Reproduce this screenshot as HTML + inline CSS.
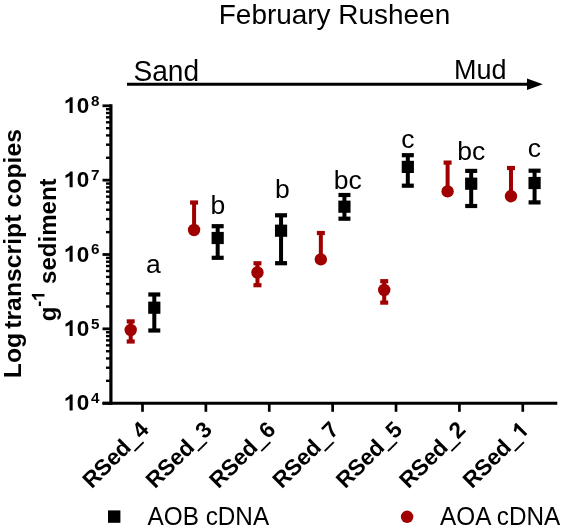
<!DOCTYPE html>
<html><head><meta charset="utf-8"><style>
html,body{margin:0;padding:0;background:#fff;overflow:hidden}
svg{display:block;will-change:transform}
text{font-family:"Liberation Sans",sans-serif;fill:#000}
</style></head><body>
<svg width="566" height="529" viewBox="0 0 566 529">
<line x1="110.9" y1="104.3" x2="110.9" y2="404.8" stroke="#000" stroke-width="3.2"/>
<line x1="102.5" y1="403.3" x2="557.3" y2="403.3" stroke="#000" stroke-width="3"/>
<line x1="102.5" y1="105.80" x2="110.9" y2="105.80" stroke="#000" stroke-width="2.8"/>
<line x1="106" y1="157.77" x2="110.9" y2="157.77" stroke="#000" stroke-width="2.4"/>
<line x1="106" y1="144.68" x2="110.9" y2="144.68" stroke="#000" stroke-width="2.4"/>
<line x1="106" y1="135.39" x2="110.9" y2="135.39" stroke="#000" stroke-width="2.4"/>
<line x1="106" y1="128.18" x2="110.9" y2="128.18" stroke="#000" stroke-width="2.4"/>
<line x1="106" y1="122.29" x2="110.9" y2="122.29" stroke="#000" stroke-width="2.4"/>
<line x1="106" y1="117.32" x2="110.9" y2="117.32" stroke="#000" stroke-width="2.4"/>
<line x1="106" y1="113.01" x2="110.9" y2="113.01" stroke="#000" stroke-width="2.4"/>
<line x1="106" y1="109.20" x2="110.9" y2="109.20" stroke="#000" stroke-width="2.4"/>
<line x1="102.5" y1="180.15" x2="110.9" y2="180.15" stroke="#000" stroke-width="2.8"/>
<line x1="106" y1="232.12" x2="110.9" y2="232.12" stroke="#000" stroke-width="2.4"/>
<line x1="106" y1="219.03" x2="110.9" y2="219.03" stroke="#000" stroke-width="2.4"/>
<line x1="106" y1="209.74" x2="110.9" y2="209.74" stroke="#000" stroke-width="2.4"/>
<line x1="106" y1="202.53" x2="110.9" y2="202.53" stroke="#000" stroke-width="2.4"/>
<line x1="106" y1="196.64" x2="110.9" y2="196.64" stroke="#000" stroke-width="2.4"/>
<line x1="106" y1="191.67" x2="110.9" y2="191.67" stroke="#000" stroke-width="2.4"/>
<line x1="106" y1="187.36" x2="110.9" y2="187.36" stroke="#000" stroke-width="2.4"/>
<line x1="106" y1="183.55" x2="110.9" y2="183.55" stroke="#000" stroke-width="2.4"/>
<line x1="102.5" y1="254.50" x2="110.9" y2="254.50" stroke="#000" stroke-width="2.8"/>
<line x1="106" y1="306.47" x2="110.9" y2="306.47" stroke="#000" stroke-width="2.4"/>
<line x1="106" y1="293.38" x2="110.9" y2="293.38" stroke="#000" stroke-width="2.4"/>
<line x1="106" y1="284.09" x2="110.9" y2="284.09" stroke="#000" stroke-width="2.4"/>
<line x1="106" y1="276.88" x2="110.9" y2="276.88" stroke="#000" stroke-width="2.4"/>
<line x1="106" y1="270.99" x2="110.9" y2="270.99" stroke="#000" stroke-width="2.4"/>
<line x1="106" y1="266.02" x2="110.9" y2="266.02" stroke="#000" stroke-width="2.4"/>
<line x1="106" y1="261.71" x2="110.9" y2="261.71" stroke="#000" stroke-width="2.4"/>
<line x1="106" y1="257.90" x2="110.9" y2="257.90" stroke="#000" stroke-width="2.4"/>
<line x1="102.5" y1="328.85" x2="110.9" y2="328.85" stroke="#000" stroke-width="2.8"/>
<line x1="106" y1="380.82" x2="110.9" y2="380.82" stroke="#000" stroke-width="2.4"/>
<line x1="106" y1="367.73" x2="110.9" y2="367.73" stroke="#000" stroke-width="2.4"/>
<line x1="106" y1="358.44" x2="110.9" y2="358.44" stroke="#000" stroke-width="2.4"/>
<line x1="106" y1="351.23" x2="110.9" y2="351.23" stroke="#000" stroke-width="2.4"/>
<line x1="106" y1="345.34" x2="110.9" y2="345.34" stroke="#000" stroke-width="2.4"/>
<line x1="106" y1="340.37" x2="110.9" y2="340.37" stroke="#000" stroke-width="2.4"/>
<line x1="106" y1="336.06" x2="110.9" y2="336.06" stroke="#000" stroke-width="2.4"/>
<line x1="106" y1="332.25" x2="110.9" y2="332.25" stroke="#000" stroke-width="2.4"/>
<line x1="102.5" y1="403.20" x2="110.9" y2="403.20" stroke="#000" stroke-width="2.8"/>
<line x1="142.50" y1="403.3" x2="142.50" y2="411.8" stroke="#000" stroke-width="2.7"/>
<line x1="205.88" y1="403.3" x2="205.88" y2="411.8" stroke="#000" stroke-width="2.7"/>
<line x1="269.26" y1="403.3" x2="269.26" y2="411.8" stroke="#000" stroke-width="2.7"/>
<line x1="332.64" y1="403.3" x2="332.64" y2="411.8" stroke="#000" stroke-width="2.7"/>
<line x1="396.02" y1="403.3" x2="396.02" y2="411.8" stroke="#000" stroke-width="2.7"/>
<line x1="459.40" y1="403.3" x2="459.40" y2="411.8" stroke="#000" stroke-width="2.7"/>
<line x1="522.78" y1="403.3" x2="522.78" y2="411.8" stroke="#000" stroke-width="2.7"/>
<rect x="128.70" y="321.40" width="4.0" height="20.10" fill="#A00000"/>
<rect x="126.70" y="319.30" width="8" height="4.2" fill="#A00000"/>
<rect x="126.70" y="339.40" width="8" height="4.2" fill="#A00000"/>
<circle cx="130.70" cy="330.00" r="6.2" fill="#A00000"/>
<rect x="152.30" y="294.50" width="4.0" height="36.00" fill="#000"/>
<rect x="148.30" y="292.40" width="12" height="4.2" fill="#000"/>
<rect x="148.30" y="328.40" width="12" height="4.2" fill="#000"/>
<rect x="148.20" y="301.60" width="12.2" height="12.2" fill="#000"/>
<rect x="192.08" y="202.50" width="4.0" height="27.50" fill="#A00000"/>
<rect x="190.08" y="200.40" width="8" height="4.2" fill="#A00000"/>
<circle cx="194.08" cy="230.00" r="6.2" fill="#A00000"/>
<rect x="215.68" y="226.20" width="4.0" height="31.60" fill="#000"/>
<rect x="211.68" y="224.10" width="12" height="4.2" fill="#000"/>
<rect x="211.68" y="255.70" width="12" height="4.2" fill="#000"/>
<rect x="211.58" y="231.90" width="12.2" height="12.2" fill="#000"/>
<rect x="255.46" y="263.30" width="4.0" height="21.90" fill="#A00000"/>
<rect x="253.46" y="261.20" width="8" height="4.2" fill="#A00000"/>
<rect x="253.46" y="283.10" width="8" height="4.2" fill="#A00000"/>
<circle cx="257.46" cy="272.50" r="6.2" fill="#A00000"/>
<rect x="279.06" y="215.30" width="4.0" height="47.90" fill="#000"/>
<rect x="275.06" y="213.20" width="12" height="4.2" fill="#000"/>
<rect x="275.06" y="261.10" width="12" height="4.2" fill="#000"/>
<rect x="274.96" y="224.60" width="12.2" height="12.2" fill="#000"/>
<rect x="318.84" y="233.00" width="4.0" height="26.40" fill="#A00000"/>
<rect x="316.84" y="230.90" width="8" height="4.2" fill="#A00000"/>
<circle cx="320.84" cy="259.40" r="6.2" fill="#A00000"/>
<rect x="342.44" y="195.00" width="4.0" height="23.70" fill="#000"/>
<rect x="338.44" y="192.90" width="12" height="4.2" fill="#000"/>
<rect x="338.44" y="216.60" width="12" height="4.2" fill="#000"/>
<rect x="338.34" y="200.60" width="12.2" height="12.2" fill="#000"/>
<rect x="382.22" y="281.20" width="4.0" height="21.40" fill="#A00000"/>
<rect x="380.22" y="279.10" width="8" height="4.2" fill="#A00000"/>
<rect x="380.22" y="300.50" width="8" height="4.2" fill="#A00000"/>
<circle cx="384.22" cy="290.00" r="6.2" fill="#A00000"/>
<rect x="405.82" y="155.20" width="4.0" height="30.50" fill="#000"/>
<rect x="401.82" y="153.10" width="12" height="4.2" fill="#000"/>
<rect x="401.82" y="183.60" width="12" height="4.2" fill="#000"/>
<rect x="401.72" y="160.80" width="12.2" height="12.2" fill="#000"/>
<rect x="445.60" y="162.60" width="4.0" height="28.80" fill="#A00000"/>
<rect x="443.60" y="160.50" width="8" height="4.2" fill="#A00000"/>
<circle cx="447.60" cy="191.40" r="6.2" fill="#A00000"/>
<rect x="469.20" y="170.90" width="4.0" height="35.10" fill="#000"/>
<rect x="465.20" y="168.80" width="12" height="4.2" fill="#000"/>
<rect x="465.20" y="203.90" width="12" height="4.2" fill="#000"/>
<rect x="465.10" y="177.60" width="12.2" height="12.2" fill="#000"/>
<rect x="508.98" y="168.00" width="4.0" height="28.20" fill="#A00000"/>
<rect x="506.98" y="165.90" width="8" height="4.2" fill="#A00000"/>
<circle cx="510.98" cy="196.20" r="6.2" fill="#A00000"/>
<rect x="532.58" y="170.70" width="4.0" height="31.70" fill="#000"/>
<rect x="528.58" y="168.60" width="12" height="4.2" fill="#000"/>
<rect x="528.58" y="200.30" width="12" height="4.2" fill="#000"/>
<rect x="528.48" y="176.90" width="12.2" height="12.2" fill="#000"/>
<text x="153.25" y="272.9" font-size="26.5" text-anchor="middle">a</text>
<text x="217.8" y="214.2" font-size="26.5" text-anchor="middle">b</text>
<text x="282.35" y="198.35" font-size="26.5" text-anchor="middle">b</text>
<text x="347.65" y="188.6" font-size="26.5" text-anchor="middle">bc</text>
<text x="407.9" y="148.15" font-size="26.5" text-anchor="middle">c</text>
<text x="471.2" y="159.5" font-size="26.5" text-anchor="middle">bc</text>
<text x="534.35" y="157.05" font-size="26.5" text-anchor="middle">c</text>
<text transform="translate(218.8,24) scale(1,1.02)" font-size="27.95">February Rusheen</text>
<text transform="translate(133.5,80.5) scale(1,1.04)" font-size="28.1">Sand</text>
<text transform="translate(454,79.4) scale(1,1.04)" font-size="27">Mud</text>
<line x1="127" y1="84.3" x2="530" y2="84.3" stroke="#000" stroke-width="3"/>
<polygon points="527,78.6 542.8,84.35 527,90.1" fill="#000"/>
<g transform="translate(64.3,113.00)"><path d="M760 0L480 0L480 1060C400 985 270 915 110 860L110 1115C200 1145 300 1200 380 1270C450 1330 510 1390 540 1440L760 1440Z" transform="translate(0.000,0.000) scale(0.01099,-0.01099)" fill="#000"/><text x="12.513" y="0" font-size="22.5" font-weight="bold">0</text></g>
<text x="91" y="105.60" font-size="15.2" font-weight="bold">8</text>
<g transform="translate(64.3,187.35)"><path d="M760 0L480 0L480 1060C400 985 270 915 110 860L110 1115C200 1145 300 1200 380 1270C450 1330 510 1390 540 1440L760 1440Z" transform="translate(0.000,0.000) scale(0.01099,-0.01099)" fill="#000"/><text x="12.513" y="0" font-size="22.5" font-weight="bold">0</text></g>
<text x="91" y="179.95" font-size="15.2" font-weight="bold">7</text>
<g transform="translate(64.3,261.70)"><path d="M760 0L480 0L480 1060C400 985 270 915 110 860L110 1115C200 1145 300 1200 380 1270C450 1330 510 1390 540 1440L760 1440Z" transform="translate(0.000,0.000) scale(0.01099,-0.01099)" fill="#000"/><text x="12.513" y="0" font-size="22.5" font-weight="bold">0</text></g>
<text x="91" y="254.30" font-size="15.2" font-weight="bold">6</text>
<g transform="translate(64.3,336.05)"><path d="M760 0L480 0L480 1060C400 985 270 915 110 860L110 1115C200 1145 300 1200 380 1270C450 1330 510 1390 540 1440L760 1440Z" transform="translate(0.000,0.000) scale(0.01099,-0.01099)" fill="#000"/><text x="12.513" y="0" font-size="22.5" font-weight="bold">0</text></g>
<text x="91" y="328.65" font-size="15.2" font-weight="bold">5</text>
<g transform="translate(64.3,410.40)"><path d="M760 0L480 0L480 1060C400 985 270 915 110 860L110 1115C200 1145 300 1200 380 1270C450 1330 510 1390 540 1440L760 1440Z" transform="translate(0.000,0.000) scale(0.01099,-0.01099)" fill="#000"/><text x="12.513" y="0" font-size="22.5" font-weight="bold">0</text></g>
<text x="91" y="403.00" font-size="15.2" font-weight="bold">4</text>
<g transform="translate(21.1,0) rotate(-90)" font-size="24.75" font-weight="bold"><text x="-378.2">Log</text><text x="-328.75">transcript</text><text x="-207.4">copies</text></g>
<g transform="translate(55.5,249.9) rotate(-90)"><text x="-71.480" y="0" font-size="24.05" font-weight="bold">g<tspan font-size="18" dy="-11">-</tspan><tspan font-size="18" fill="transparent">1</tspan><tspan dy="11"> sediment</tspan></text><path d="M760 0L480 0L480 1060C400 985 270 915 110 860L110 1115C200 1145 300 1200 380 1270C450 1330 510 1390 540 1440L760 1440Z" transform="translate(-50.795,-11.000) scale(0.00879,-0.00879)" fill="#000"/></g>
<g transform="translate(150.00,431) rotate(-45)"><text font-size="22.5" font-weight="bold" text-anchor="end">RSed<tspan fill="transparent">_</tspan>4</text><rect x="-25.227" y="2.4" width="12.931" height="1.8" fill="#000"/></g>
<g transform="translate(213.38,431) rotate(-45)"><text font-size="22.5" font-weight="bold" text-anchor="end">RSed<tspan fill="transparent">_</tspan>3</text><rect x="-25.227" y="2.4" width="12.931" height="1.8" fill="#000"/></g>
<g transform="translate(276.76,431) rotate(-45)"><text font-size="22.5" font-weight="bold" text-anchor="end">RSed<tspan fill="transparent">_</tspan>6</text><rect x="-25.227" y="2.4" width="12.931" height="1.8" fill="#000"/></g>
<g transform="translate(340.14,431) rotate(-45)"><text font-size="22.5" font-weight="bold" text-anchor="end">RSed<tspan fill="transparent">_</tspan>7</text><rect x="-25.227" y="2.4" width="12.931" height="1.8" fill="#000"/></g>
<g transform="translate(403.52,431) rotate(-45)"><text font-size="22.5" font-weight="bold" text-anchor="end">RSed<tspan fill="transparent">_</tspan>5</text><rect x="-25.227" y="2.4" width="12.931" height="1.8" fill="#000"/></g>
<g transform="translate(466.90,431) rotate(-45)"><text font-size="22.5" font-weight="bold" text-anchor="end">RSed<tspan fill="transparent">_</tspan>2</text><rect x="-25.227" y="2.4" width="12.931" height="1.8" fill="#000"/></g>
<g transform="translate(530.28,431) rotate(-45)"><text font-size="22.5" font-weight="bold" text-anchor="end">RSed<tspan fill="transparent">_1</tspan></text><path d="M760 0L480 0L480 1060C400 985 270 915 110 860L110 1115C200 1145 300 1200 380 1270C450 1330 510 1390 540 1440L760 1440Z" transform="translate(-12.513,0.000) scale(0.01099,-0.01099)" fill="#000"/><rect x="-25.227" y="2.4" width="12.931" height="1.8" fill="#000"/></g>
<rect x="108" y="510.4" width="12.4" height="12.4" fill="#000"/>
<text transform="translate(147.6,525.1) scale(1,1.04)" font-size="24.3">AOB cDNA</text>
<circle cx="407.1" cy="516.8" r="6.2" fill="#A00000"/>
<text transform="translate(440.1,525.1) scale(1,1.04)" font-size="24.3">AOA cDNA</text>
</svg>
</body></html>
